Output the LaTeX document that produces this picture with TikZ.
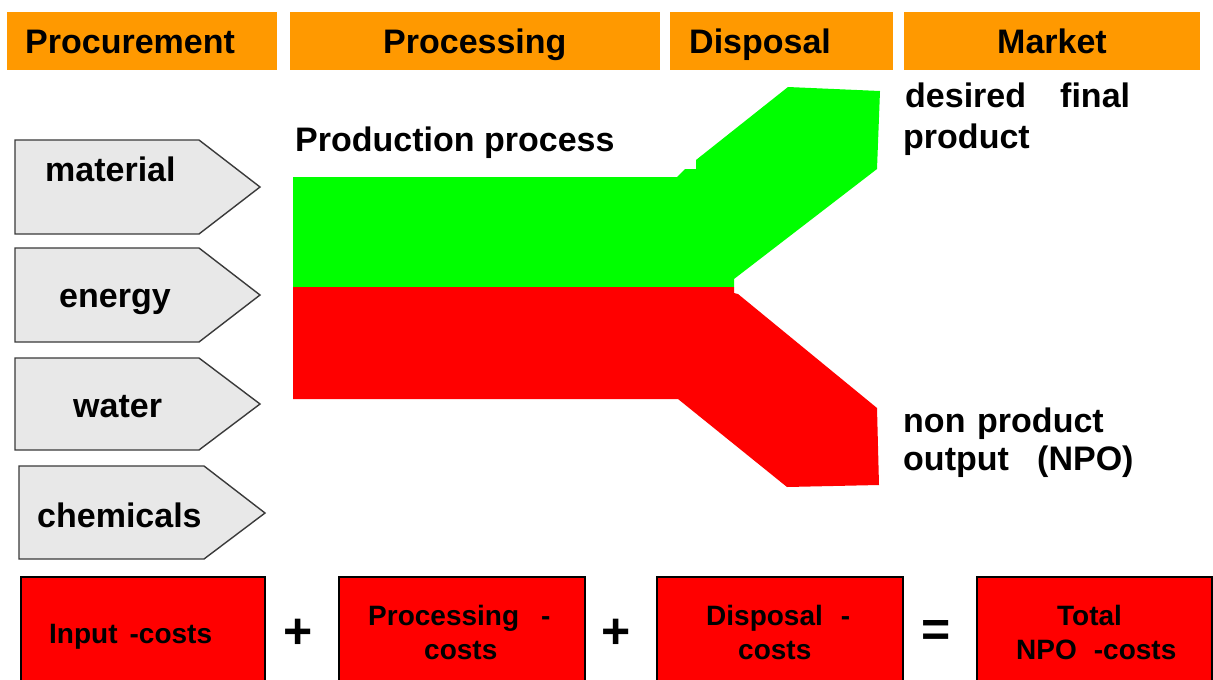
\documentclass[tikz,border=0pt]{standalone}
\usepackage{fontspec}
\setmainfont{Liberation Sans}
\definecolor{hdrorange}{HTML}{FF9900}
\definecolor{flowgreen}{HTML}{00FF00}
\definecolor{flowred}{HTML}{FF0000}
\definecolor{inputgray}{HTML}{E8E8E8}
\definecolor{inputedge}{HTML}{3A3A3A}
\begin{document}
\begin{tikzpicture}[x=1pt,y=-1pt,
  hdr/.style={fill=hdrorange,draw=none,inner sep=0pt},
  bigtxt/.style={font=\fontsize{34}{40}\selectfont\bfseries,inner sep=0pt,anchor=base west},
  costtxt/.style={font=\fontsize{28}{34}\selectfont\bfseries,inner sep=0pt,anchor=base west},
  optxt/.style={font=\fontsize{50}{56}\selectfont\bfseries,inner sep=0pt},
  inarrow/.style={fill=inputgray,draw=inputedge,line width=1.4pt,line join=miter},
  costbox/.style={fill=flowred,draw=black,line width=2pt}]
\useasboundingbox (0,0) rectangle (1213,680);
\clip (0,0) rectangle (1213,680);
\fill[white] (0,0) rectangle (1213,680);
% headers
\node[hdr,minimum width=270pt,minimum height=58pt] (h1) at (142,41) {};
\node[hdr,minimum width=370pt,minimum height=58pt] (h2) at (475,41) {};
\node[hdr,minimum width=223pt,minimum height=58pt] (h3) at (781.5,41) {};
\node[hdr,minimum width=296pt,minimum height=58pt] (h4) at (1052,41) {};
\node[bigtxt] (h1t) at (25,53) {Procurement};
\node[bigtxt] (h2t) at (383,53) {Processing};
\node[bigtxt] (h3t) at (689,53) {Disposal};
\node[bigtxt] (h4t) at (997,53) {Market};
% input arrows
\draw[inarrow] (15,140) -- (199,140) -- (260,187) -- (199,234) -- (15,234) -- cycle;
\draw[inarrow] (15,248) -- (199,248) -- (260,295) -- (199,342) -- (15,342) -- cycle;
\draw[inarrow] (15,358) -- (199,358) -- (260,404) -- (199,450) -- (15,450) -- cycle;
\draw[inarrow] (19,466) -- (204,466) -- (265,513) -- (204,559) -- (19,559) -- cycle;
\node[bigtxt] (t1) at (45,181) {material};
\node[bigtxt] (t2) at (59,307) {energy};
\node[bigtxt] (t3) at (73,417) {water};
\node[bigtxt] (t4) at (37,527) {chemicals};
% production flows
\fill[flowgreen] (293,177) -- (677,177) -- (685,169) -- (696,169) -- (696,160) -- (788,87) -- (880,91) -- (877,169) -- (734,279) -- (734,287) -- (293,287) -- cycle;
\fill[flowred] (293,287) -- (734,287) -- (734,293) -- (738,294) -- (877,408) -- (879,485) -- (787,487) -- (678,399) -- (293,399) -- cycle;
\node[bigtxt] (pp) at (295,151) {Production process};
\node[bigtxt] (d1) at (905,107) {desired};
\node[bigtxt] (d2) at (1060,107) {final};
\node[bigtxt] (d3) at (903,148) {product};
\node[bigtxt] (n1) at (903,432) {non};
\node[bigtxt] (n2) at (977,432) {product};
\node[bigtxt] (n3) at (903,470) {output};
\node[bigtxt] (n4) at (1037,470) {(NPO)};
% cost boxes
\draw[costbox] (21,577) rectangle (265,700);
\draw[costbox] (339,577) rectangle (585,700);
\draw[costbox] (657,577) rectangle (903,700);
\draw[costbox] (977,577) rectangle (1212,700);
\node[costtxt] (c1) at (49,643) {Input\hspace{12pt}-costs};
\node[costtxt] (c2a) at (368,625) {Processing\hspace{22pt}-};
\node[costtxt] (c2b) at (424,659) {costs};
\node[costtxt] (c3a) at (706,625) {Disposal\hspace{18pt}-};
\node[costtxt] (c3b) at (738,659) {costs};
\node[costtxt] (c4a) at (1057,625) {Total};
\node[costtxt] (c4b) at (1016,659) {NPO\hspace{17pt}-costs};
\node[optxt] (p1) at (298,634) {+};
\node[optxt] (p2) at (616,634) {+};
\node[optxt] (eq) at (936,633) {=};
\end{tikzpicture}
\end{document}
